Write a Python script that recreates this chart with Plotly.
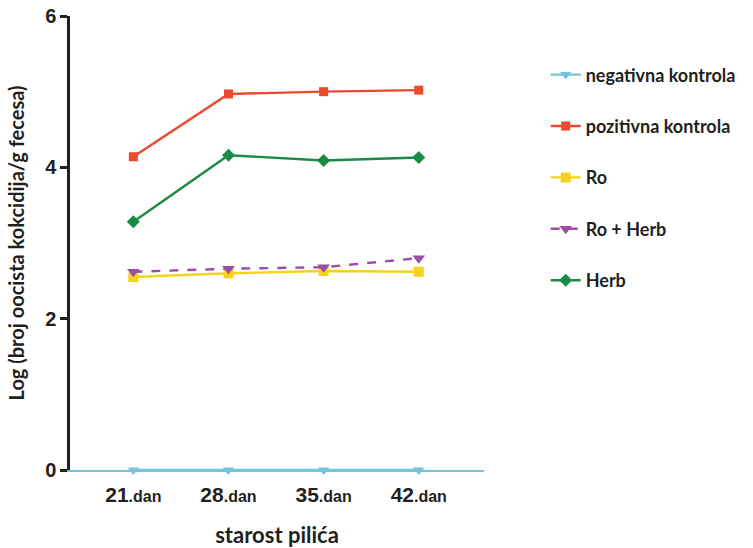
import plotly.graph_objects as go

days = [21, 28, 35, 42]
tick_main = ["21", "28", "35", "42"]
negativna = [0, 0, 0, 0]
pozitivna = [4.14, 4.97, 5.00, 5.02]
ro = [2.55, 2.60, 2.63, 2.62]
ro_herb = [2.62, 2.66, 2.68, 2.80]
herb = [3.28, 4.16, 4.09, 4.13]

series = [
    ("negativna kontrola", negativna, "#72c6dc", "triangle-down", "solid", 10),
    ("pozitivna kontrola", pozitivna, "#ea4a2e", "square", "solid", 9),
    ("Ro", ro, "#f7d21a", "square", "solid", 10),
    ("Ro + Herb", ro_herb, "#9a4ea6", "triangle-down", "dash", 11),
    ("Herb", herb, "#1b8a45", "diamond", "solid", 10),
]

fig = go.Figure()
for i, (name, vals, col, sym, dash, ms) in enumerate(series):
    fig.add_trace(go.Scatter(
        x=days, y=vals, name=name, mode="lines+markers",
        line=dict(color=col, width=2.4, dash=dash),
        marker=dict(color=col, symbol=sym, size=ms),
        legendgroup=f"g{i}", cliponaxis=False,
    ))

ticktext = [f"<b>{t}</b><span style='font-size:16px'><b>.dan</b></span>" for t in tick_main]

fig.update_layout(
    width=753, height=548,
    margin=dict(l=70, r=258, t=16, b=78),
    paper_bgcolor="white", plot_bgcolor="white",
    font=dict(family="Lato, Liberation Sans, sans-serif", color="#231f20"),
    showlegend=True,
    legend=dict(x=1.149, y=0.911, xanchor="left", yanchor="top",
                font=dict(family="Lato, sans-serif", size=18, color="#231f20", weight="bold"),
                tracegroupgap=25, bgcolor="rgba(0,0,0,0)"),
    xaxis=dict(range=[16.34, 46.8], tickvals=days, ticktext=ticktext, automargin=False,
               showgrid=False, zeroline=False, showline=True, ticklabeloverflow="allow",
               linecolor="#72c6dc", linewidth=2, ticks="", ticklabelstandoff=5,
               tickfont=dict(family="Liberation Sans, Arial, sans-serif", size=21, color="#231f20"),
               title=dict(text="<b>starost pilića</b>", standoff=23,
                          font=dict(family="Lato, sans-serif", size=22, color="#231f20"))),
    yaxis=dict(range=[0, 6], tickvals=[0, 2, 4, 6], showgrid=False, zeroline=False, automargin=False,
               showline=True, linecolor="#231f20", linewidth=2.5, ticklabeloverflow="allow",
               ticks="outside", ticklen=7, tickwidth=2.5, tickcolor="#231f20",
               tickfont=dict(family="Liberation Sans, Arial, sans-serif", size=20, color="#231f20", weight="bold"),
               title=dict(text="<b>Log (broj oocista kokcidija/g fecesa)</b>", standoff=16,
                          font=dict(family="Lato, sans-serif", size=20, color="#231f20"))),
)

fig.write_html(
    "out.html",
    config={"displayModeBar": False},
    post_script="document.body.style.margin='0px';document.body.style.overflow='hidden';document.documentElement.style.overflow='hidden';",
)
